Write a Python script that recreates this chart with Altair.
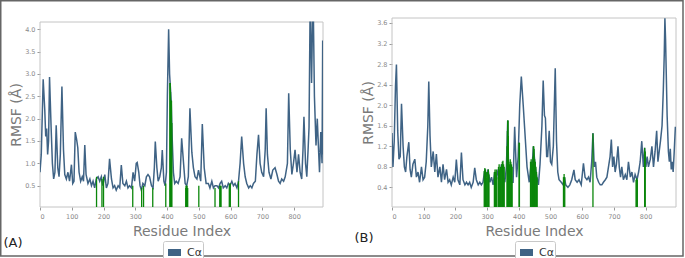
import altair as alt
import pandas as pd

# ---------------- data ----------------
A_RES = [0, 4, 10, 15, 18, 21, 24, 27, 30, 35, 39, 43, 47, 51, 56, 60, 64, 69, 74, 78, 83, 88, 93, 99,
         103, 107, 111, 115, 119, 123, 128, 133, 137, 141, 145, 151, 157, 162, 167, 172, 177, 183,
         188, 193, 198, 204, 209, 214, 219, 225, 230, 235, 240, 246, 251, 256, 261, 267, 272, 277,
         282, 288, 293, 298, 303, 306, 311, 315, 319, 324, 330, 335, 340, 345, 351, 356, 360, 363,
         368, 372, 377, 382, 385, 390, 394, 398, 401, 405, 408, 413, 416, 420, 424, 429, 435, 441,
         446, 452, 457, 462, 467, 472, 478, 483, 488, 494, 499, 506, 511, 517, 523, 530, 535, 541,
         546, 551, 557, 562, 567, 572, 577, 583, 588, 593, 598, 604, 609, 614, 620, 625, 630, 635,
         641, 646, 651, 657, 662, 667, 672, 678, 683, 688, 693, 698, 704, 709, 712, 716, 721, 727,
         733, 740, 746, 751, 756, 761, 767, 772, 779, 783, 788, 793, 798, 803, 809, 814, 819, 824,
         828, 831, 836, 840, 844, 847, 850, 852, 855, 858, 861, 864, 869, 873, 877, 880, 884, 888,
         890, 891]
A_VAL = [0.8, 1.2, 2.88, 2.2, 1.6, 1.78, 1.2, 1.5, 2.93, 1.8, 1.0, 0.65, 0.8, 1.85, 0.9, 0.7, 1.2, 2.72,
         1.3, 0.75, 0.65, 0.8, 0.6, 0.97, 0.55, 0.6, 1.7, 1.55, 1.35, 0.8, 0.6, 0.7, 0.6, 1.41, 0.75,
         0.55, 0.65, 0.5, 0.6, 0.45, 0.65, 0.7, 0.6, 0.7, 0.5, 0.75, 0.45, 0.55, 1.1, 0.65, 0.45, 0.5,
         0.4, 0.5, 0.45, 0.96, 0.55, 0.5, 0.6, 0.45, 0.5, 0.45, 0.8, 0.6, 1.0, 1.02, 0.8, 0.5, 0.4,
         0.55, 0.5, 0.7, 0.75, 0.7, 0.5, 0.45, 0.9, 1.49, 0.9, 0.6, 0.7, 0.9, 1.3, 0.6, 0.5, 0.8, 2.5,
         4.0, 3.0, 2.4, 1.6, 0.8, 0.55, 0.6, 0.55, 0.7, 1.56, 1.0, 0.55, 0.5, 0.7, 2.23, 1.25, 0.9,
         0.7, 0.65, 0.85, 0.6, 1.88, 0.9, 0.55, 0.55, 0.45, 0.6, 0.45, 0.5, 0.5, 0.45, 0.55, 0.6,
         0.45, 0.5, 0.45, 0.55, 0.5, 0.6, 0.5, 0.55, 0.45, 0.6, 1.0, 1.6, 1.0, 0.7, 0.55, 0.45, 0.5,
         0.45, 0.55, 0.6, 1.2, 1.64, 1.0, 0.8, 0.7, 1.3, 2.23, 1.2, 0.8, 0.65, 0.85, 0.9, 0.75, 0.6,
         0.55, 0.65, 0.6, 0.7, 1.0, 2.57, 1.3, 0.75, 1.0, 1.3, 0.8, 1.2, 0.8, 0.65, 1.3, 2.04, 1.0,
         0.7, 1.3, 1.8, 4.16, 4.16, 2.8, 4.16, 4.16, 2.5, 1.4, 2.0, 1.3, 0.8, 1.7, 1.0, 3.75, 1.2]

A_GREEN_RES = [178, 195, 200, 292, 320, 326, 355, 396, 409, 410, 411, 412, 413, 414, 415, 459, 460,
               461, 462, 463, 464, 465, 500, 551, 566, 568, 570, 596, 598, 599, 625]
A_GREEN_VAL = [0.7, 0.65, 0.7, 0.5, 0.45, 0.5, 0.45, 0.55, 2.8, 2.8, 2.6, 2.4, 2.4, 2.4, 1.9, 0.45,
               0.5, 0.5, 0.45, 0.5, 0.45, 0.45, 0.5, 0.45, 0.5, 0.5, 0.5, 0.5, 0.55, 0.55, 0.6]

B_RES = [0, 3, 7, 11, 14, 18, 22, 26, 30, 35, 39, 43, 47, 53, 57, 61, 66, 72, 77, 82, 87, 93, 98,
         103, 108, 113, 116, 120, 124, 130, 135, 140, 145, 151, 156, 161, 166, 172, 177, 182, 187,
         193, 198, 203, 208, 214, 219, 224, 230, 235, 240, 245, 250, 256, 261, 266, 272, 277, 282,
         287, 293, 298, 303, 309, 314, 319, 324, 329, 335, 340, 345, 351, 356, 361, 365, 368, 372,
         377, 382, 387, 393, 398, 403, 408, 414, 418, 422, 426, 433, 437, 441, 446, 452, 457, 462,
         467, 473, 477, 481, 484, 488, 491, 496, 500, 504, 509, 515, 519, 523, 527, 534, 540, 544,
         548, 555, 561, 567, 574, 578, 584, 590, 597, 604, 609, 615, 620, 625, 630, 634, 638, 642,
         646, 652, 657, 662, 667, 673, 678, 683, 688, 692, 696, 700, 704, 708, 713, 717, 721, 725,
         730, 736, 741, 746, 752, 757, 762, 767, 773, 778, 783, 788, 793, 797, 801, 805, 809, 815,
         820, 825, 830, 835, 839, 843, 847, 852, 856, 859, 861, 863, 865, 868, 872, 875, 878, 881,
         884, 887, 890, 894]
B_VAL = [1.46, 0.8, 1.3, 2.37, 2.79, 1.5, 0.95, 1.0, 2.03, 1.2, 0.8, 0.7, 1.0, 1.28, 0.75, 0.6, 0.85,
         0.95, 0.6, 0.7, 0.5, 0.8, 0.55, 0.6, 0.9, 1.6, 2.46, 1.4, 0.8, 1.1, 0.7, 1.05, 0.6, 0.8, 0.5,
         0.85, 0.55, 0.75, 0.5, 0.55, 0.45, 0.6, 0.5, 0.94, 0.55, 0.45, 1.08, 0.55, 0.45, 0.5, 0.45,
         0.5, 0.4, 0.5, 0.78, 0.55, 0.45, 0.5, 0.45, 0.5, 0.75, 0.6, 0.75, 0.5, 0.6, 0.45, 0.7, 0.55,
         0.75, 0.55, 0.85, 0.6, 0.5, 0.8, 1.7, 0.7, 0.6, 0.5, 0.5, 1.58, 0.6, 1.0, 2.0, 2.56, 2.0,
         1.6, 1.2, 0.8, 0.5, 0.75, 0.7, 1.2, 0.8, 0.6, 0.45, 0.85, 1.6, 2.48, 1.8, 1.75, 1.0, 1.0,
         1.5, 0.9, 0.85, 1.2, 2.72, 1.3, 0.7, 0.55, 0.5, 0.45, 0.6, 0.45, 0.4, 0.45, 0.55, 0.74,
         0.55, 0.5, 0.55, 0.45, 0.87, 0.6, 0.55, 0.6, 0.5, 0.9, 1.46, 0.8, 0.9, 0.6, 0.5, 0.45, 0.45,
         0.5, 0.55, 0.6, 0.8, 1.0, 1.33, 0.8, 1.0, 0.7, 0.85, 1.2, 0.8, 0.6, 0.8, 0.55, 0.65, 0.55,
         0.9, 0.6, 0.7, 0.5, 0.65, 0.55, 0.7, 0.9, 1.3, 0.8, 1.17, 0.8, 1.0, 0.8, 0.95, 1.2, 0.8, 1.1,
         1.5, 0.9, 1.1, 1.3, 1.6, 2.3, 3.0, 3.69, 3.3, 2.7, 1.8, 1.1, 0.9, 1.15, 0.75, 0.9, 0.7, 1.05,
         1.58]

B_GREEN_RES = [291, 293, 295, 297, 299, 302, 304, 306, 323, 325, 327, 329, 331, 336, 338, 340, 342,
               346, 348, 350, 352, 354, 363, 364, 365, 366, 367, 369, 371, 373, 375, 377, 379, 401,
               402, 437, 439, 441, 443, 445, 446, 447, 448, 450, 452, 454, 456, 458, 541, 543, 545,
               634, 770, 772, 774, 797, 799]
B_GREEN_VAL = [0.72, 0.78, 0.75, 0.7, 0.6, 0.7, 0.75, 0.65, 0.7, 0.75, 0.7, 0.75, 0.6, 0.8, 0.85,
               0.75, 0.8, 0.85, 0.9, 0.92, 0.85, 0.8, 1.2, 1.5, 1.7, 1.7, 1.4, 0.9, 0.85, 0.95, 0.9,
               0.85, 0.8, 1.27, 1.27, 0.9, 0.95, 0.9, 0.85, 1.0, 1.2, 1.2, 1.15, 0.95, 0.9, 0.8, 0.7,
               0.6, 0.6, 0.66, 0.6, 1.45, 0.55, 0.58, 0.55, 1.17, 1.1]

X_TICKS = [0, 100, 200, 300, 400, 500, 600, 700, 800]
A_YTICKS = [0.5, 1.0, 1.5, 2.0, 2.5, 3.0, 3.5, 4.0]
B_YTICKS = [0.4, 0.8, 1.2, 1.6, 2.0, 2.4, 2.8, 3.2, 3.6]
SERIES = "Cα"

# ---------------- styling ----------------
LINE = "#3f6385"
GREEN = "#0a860a"
FONT = "DejaVu Sans"
H = 189


def panel(res, val, gres, gval, xmax, ydom, yticks, w, top, label, lx, ly, outer):
    line_df = pd.DataFrame({"res": res, "rmsf": val, "series": SERIES})
    g_df = pd.DataFrame({"res": gres, "rmsf": gval})
    one = pd.DataFrame({"k": [0]})
    xs = alt.Scale(domain=[0, xmax], nice=False, zero=False)
    ys = alt.Scale(domain=ydom, nice=False, zero=False, range=[H, top])
    xax = alt.Axis(values=X_TICKS, format="d", title="Residue Index", labelOverlap=False,
                   labelSeparation=0, labelPadding=3, titleY=17)
    yax = alt.Axis(values=yticks, format=".1f", title="RMSF (Å)", labelOverlap=False,
                   labelSeparation=0, labelPadding=2, titleX=-17, titleY=(H + top) / 2)
    frame = alt.Chart(one).mark_rect(fillOpacity=0, stroke="#c4c4c4", strokeWidth=1).encode(
        x=alt.value(0), x2=alt.value(w), y=alt.value(top), y2=alt.value(H))
    line = alt.Chart(line_df).mark_line(strokeWidth=1.5, clip=True).encode(
        x=alt.X("res:Q", scale=xs, axis=xax),
        y=alt.Y("rmsf:Q", scale=ys, axis=yax),
        color=alt.Color("series:N", scale=alt.Scale(domain=[SERIES], range=[LINE]),
                        legend=alt.Legend(orient="none", legendX=123, legendY=223, title=None,
                                          direction="horizontal", symbolType="stroke",
                                          symbolStrokeWidth=7, symbolSize=170, symbolOffset=0,
                                          labelFont=FONT, labelFontSize=11, labelColor="#333",
                                          labelOffset=2, strokeColor="#c8c8c8",
                                          fillColor="white", padding=1, cornerRadius=2)),
    )
    green = alt.Chart(g_df).mark_rule(color=GREEN, strokeWidth=1.3).encode(
        x=alt.X("res:Q", scale=xs, axis=xax), y=alt.Y("rmsf:Q", scale=ys, axis=yax),
        y2=alt.value(H))
    txt = alt.Chart(one).mark_text(text=label, font=FONT, fontSize=13, color="#222").encode(
        x=alt.value(lx), y=alt.value(ly))
    layers = [frame, line, green, txt]
    if outer:
        layers.append(alt.Chart(one).mark_rect(fillOpacity=0, stroke="#666", strokeWidth=1.5).encode(
            x=alt.value(-39.25), x2=alt.value(643), y=alt.value(-17.25), y2=alt.value(238)))
    return alt.layer(*layers).properties(width=w, height=H)


pa = panel(A_RES, A_VAL, A_GREEN_RES, A_GREEN_VAL, 891, [0.023, 4.163], A_YTICKS, 283, 4,
           "(A)", -27, 225, True)
pb = panel(B_RES, B_VAL, B_GREEN_RES, B_GREEN_VAL, 896, [0.019, 3.697], B_YTICKS, 284, 0,
           "(B)", -28, 220, False)

chart = (
    alt.hconcat(pa, pb, spacing=69, bounds="flush")
    .resolve_scale(color="independent")
    .resolve_legend(color="independent")
    .properties(padding=0, background="white")
    .configure_view(strokeWidth=0)
    .configure_axis(grid=False, domain=False, tickSize=3, tickColor="#999",
                    labelFont=FONT, labelFontSize=6.5, labelColor="#8a8a8a", labelOverlap=False,
                    labelSeparation=0, titleFont=FONT, titleFontSize=14, titleColor="#7a7a7a",
                    titleFontWeight="normal")
)

chart.save("out.html", embed_options={"renderer": "svg", "actions": False})
